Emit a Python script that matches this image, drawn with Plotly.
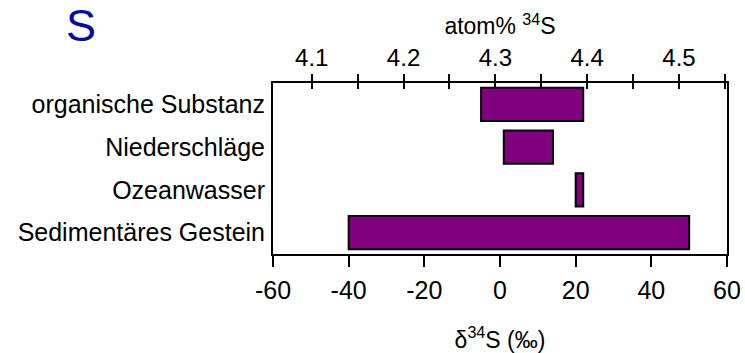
import plotly.graph_objects as go

# Data
categories = ["organische Substanz", "Niederschläge", "Ozeanwasser", "Sedimentäres Gestein"]
delta_min = [-5, 1, 20, -40]
delta_max = [22, 14, 22, 50]
delta_ticks = [-60, -40, -20, 0, 20, 40, 60]
delta_ticklabels = ["-60", "-40", "-20", "0", "20", "40", "60"]
atom_major_step = 0.1
atom_minor_step = 0.05
atom_first_tick = 4.1
delta_range = [-60, 60]
atom_range = [4.0578, 4.5523]

FONT = "Liberation Sans"

widths = [b - a for a, b in zip(delta_min, delta_max)]

fig = go.Figure()
fig.add_trace(go.Bar(
    y=categories, x=widths, base=delta_min, orientation="h",
    marker=dict(color="#800080", line=dict(color="black", width=2)),
    width=0.78, showlegend=False, hoverinfo="skip",
))
# invisible traces to anchor top axes
fig.add_trace(go.Scatter(x=[None], y=[None], xaxis="x2", showlegend=False, hoverinfo="skip"))
fig.add_trace(go.Scatter(x=[None], y=[None], xaxis="x3", showlegend=False, hoverinfo="skip"))

fig.update_layout(
    width=745, height=353,
    margin=dict(l=273, r=18, t=83, b=99, autoexpand=False),
    plot_bgcolor="white", paper_bgcolor="white",
    font=dict(family=FONT, color="black", size=23),
    xaxis=dict(
        range=delta_range, tickvals=delta_ticks, ticktext=delta_ticklabels,
        ticks="outside", ticklen=11, tickwidth=2, tickcolor="black",
        showline=True, linewidth=2, linecolor="black", mirror=False,
        showgrid=False, zeroline=False, automargin=False,
        tickfont=dict(family=FONT, size=25),
        ticklabelstandoff=2,
        title=dict(text="δ<sup>34</sup>S (‰)", font=dict(family=FONT, size=23), standoff=29),
    ),
    xaxis2=dict(
        overlaying="x", side="top", anchor="y",
        range=atom_range, tick0=atom_first_tick, dtick=atom_major_step,
        ticks="outside", ticklen=7, tickwidth=2, tickcolor="black",
        minor=dict(tick0=atom_first_tick, dtick=atom_minor_step, ticks="outside",
                   ticklen=7, tickwidth=2, tickcolor="black", showgrid=False),
        showline=True, linewidth=2, linecolor="black",
        showgrid=False, zeroline=False, automargin=False,
        tickfont=dict(family=FONT, size=24),
        ticklabelstandoff=-2,
        title=dict(text="atom% <sup>34</sup>S", font=dict(family=FONT, size=23), standoff=3),
    ),
    xaxis3=dict(
        overlaying="x", side="top", anchor="y",
        range=atom_range, tick0=atom_first_tick, dtick=atom_major_step,
        ticks="inside", ticklen=6, tickwidth=2, tickcolor="black",
        minor=dict(tick0=atom_first_tick, dtick=atom_minor_step, ticks="inside",
                   ticklen=6, tickwidth=2, tickcolor="black", showgrid=False),
        showticklabels=False, showline=False,
        showgrid=False, zeroline=False, automargin=False,
    ),
    yaxis=dict(
        type="category", categoryorder="array", categoryarray=categories,
        range=[3.5, -0.5],
        ticks="", showline=True, linewidth=2, linecolor="black", mirror=True,
        showgrid=False, zeroline=False, automargin=False,
        tickfont=dict(family=FONT, size=25),
        ticklabelstandoff=1,
    ),
    annotations=[dict(
        text="S", xref="paper", yref="paper",
        x=(81 - 273) / 454, y=1 + (83 - 25) / 171,
        xanchor="center", yanchor="middle", showarrow=False, height=44,
        font=dict(family=FONT, size=45, color="#0A0AA0"),
    )],
)

fig.write_html("out.html")
